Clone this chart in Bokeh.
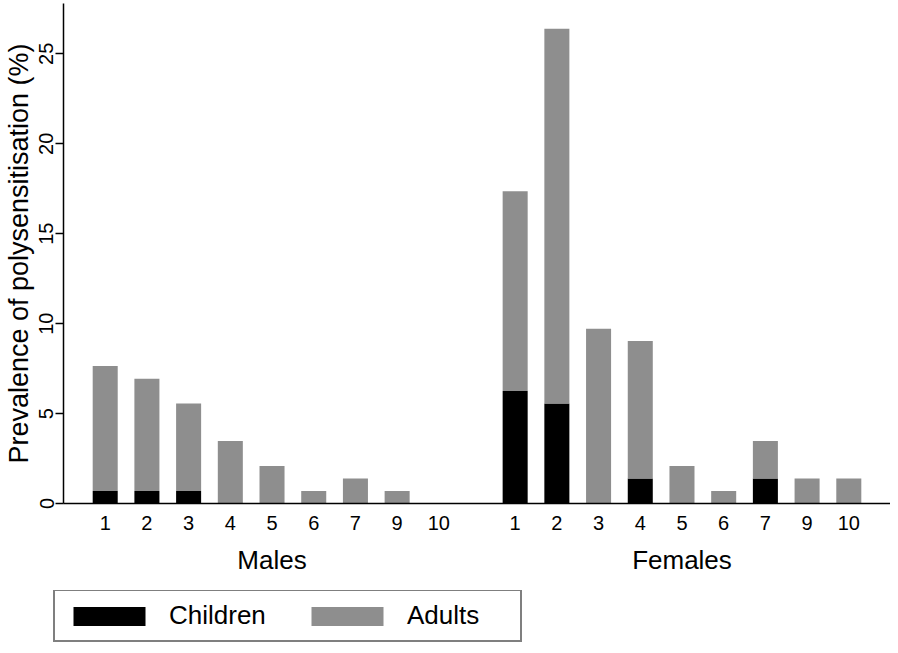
from bokeh.plotting import figure
from bokeh.layouts import column
from bokeh.models import FactorRange, Range1d, FixedTicker, Legend, LegendItem, ColumnDataSource
from bokeh.embed import file_html
from bokeh.resources import INLINE

# ---- data ----
groups = ["Males", "Females"]
categories = ["1", "2", "3", "4", "5", "6", "7", "9", "10"]
males_children = [0.69, 0.69, 0.69, 0.0, 0.0, 0.0, 0.0, 0.0, 0.0]
males_adults = [6.95, 6.25, 4.87, 3.47, 2.08, 0.69, 1.39, 0.69, 0.0]
females_children = [6.25, 5.56, 0.0, 1.39, 0.0, 0.0, 1.39, 0.0, 0.0]
females_adults = [11.11, 20.83, 9.72, 7.64, 2.08, 0.69, 2.08, 1.39, 1.39]
y_ticks = [0, 5, 10, 15, 20, 25]
series_names = ["Children", "Adults"]
series_colors = ["#000000", "#8e8e8e"]
y_title = "Prevalence of polysensitisation (%)"

FONT = "Liberation Sans"

x = [(g, c) for g in groups for c in categories]
children = males_children + females_children
adults = males_adults + females_adults
src = ColumnDataSource(dict(x=x, Children=children, Adults=adults))

xr = FactorRange(*x, group_padding=0.83, range_padding=0.5, range_padding_units="absolute")
p = figure(x_range=xr, y_range=Range1d(0, 27.8), width=890, height=590,
           output_backend="svg", toolbar_location=None,
           min_border_top=3, min_border_right=0, min_border_bottom=87, min_border_left=10)

p.vbar_stack(series_names, x="x", width=0.6, color=series_colors, line_color=None, source=src)

p.outline_line_color = None
p.xgrid.grid_line_color = None
p.ygrid.grid_line_color = None
p.background_fill_color = "white"

yax = p.yaxis[0]
yax.ticker = FixedTicker(ticks=y_ticks)
yax.minor_tick_line_color = None
yax.major_tick_in = 0
yax.major_tick_out = 8
yax.major_tick_line_width = 1.5
yax.major_tick_line_color = "black"
yax.axis_line_width = 1.5
yax.axis_line_color = "black"
yax.major_label_orientation = "vertical"
yax.major_label_text_font = FONT
yax.major_label_text_font_size = "20px"
yax.major_label_text_color = "black"
yax.major_label_standoff = 2
yax.axis_label = y_title
yax.axis_label_text_font = FONT
yax.axis_label_text_font_size = "27px"
yax.axis_label_text_font_style = "normal"
yax.axis_label_text_color = "black"
yax.axis_label_standoff = 3

xax = p.xaxis[0]
xax.major_tick_line_color = None
xax.minor_tick_line_color = None
xax.major_tick_in = 0
xax.major_tick_out = 0
xax.axis_line_width = 1.5
xax.axis_line_color = "black"
xax.major_label_text_font = FONT
xax.major_label_text_font_size = "20px"
xax.major_label_text_color = "black"
xax.major_label_standoff = 12
xax.group_text_font = FONT
xax.group_text_font_size = "26px"
xax.group_text_color = "black"
xax.group_text_font_style = "normal"
xax.separator_line_color = None

# ---- legend panel (separate strip under the chart) ----
pl = figure(x_range=xr, y_range=Range1d(0, 1), width=890, height=55,
            output_backend="svg", toolbar_location=None, min_border=0,
            x_axis_location=None, y_axis_location=None)
pl.frame_align = False
pl.outline_line_color = None
pl.grid.visible = False
rs = pl.vbar_stack(series_names, x="x", width=0.6, color=series_colors, line_color=None,
                   source=src, visible=False)

legend = Legend(items=[LegendItem(label=n, renderers=[r]) for n, r in zip(series_names, rs)],
                orientation="horizontal", location=(53, 3),
                glyph_width=90, glyph_height=24, label_standoff=15, spacing=29,
                padding=9, margin=0, label_width=104,
                label_text_font=FONT, label_text_font_size="26px", label_text_color="black",
                border_line_color="black", border_line_width=2,
                background_fill_color="white", background_fill_alpha=1.0)
pl.add_layout(legend, "center")

layout = column(p, pl, spacing=0)
open("out.html", "w").write(file_html(layout, INLINE))
